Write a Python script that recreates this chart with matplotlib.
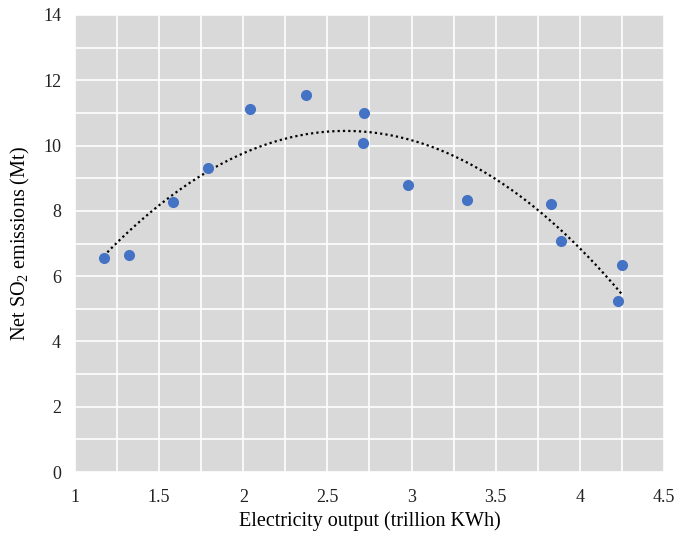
import numpy as np
import matplotlib.pyplot as plt
from matplotlib.ticker import MultipleLocator

plt.rcParams['font.family'] = ['Liberation Serif', 'DejaVu Serif']
plt.rcParams['mathtext.fontset'] = 'custom'
plt.rcParams['mathtext.rm'] = 'Liberation Serif'
plt.rcParams['mathtext.it'] = 'Liberation Serif:italic'

# 发电量 (trillion KWh) 与 SO2 净排放 (Mt)
output_twh = [1.17, 1.32, 1.58, 1.79, 2.04, 2.37, 2.71, 2.72, 2.98, 3.33, 3.83, 3.89, 4.23, 4.25]
so2_mt = [6.55, 6.66, 8.26, 9.30, 11.12, 11.56, 10.07, 11.00, 8.78, 8.34, 8.20, 7.07, 5.25, 6.34]

x = np.array(output_twh)
y = np.array(so2_mt)

fig = plt.figure(figsize=(6.88, 5.34), dpi=100)
ax = fig.add_axes([0.109, 0.116, 0.856, 0.856])
ax.set_facecolor('#D9D9D9')

# 二次趋势线
coef = np.polyfit(x, y, 2)
xs = np.linspace(x.min(), x.max(), 200)
ax.plot(xs, np.polyval(coef, xs), color='black', linestyle=(0, (1, 1.4)), linewidth=1.6, zorder=3)

ax.scatter(x, y, s=64, color='#4472C4', zorder=4, linewidths=0)

ax.set_xlim(1, 4.5)
ax.set_ylim(0, 14)
ax.xaxis.set_major_locator(MultipleLocator(0.5))
ax.xaxis.set_minor_locator(MultipleLocator(0.25))
ax.yaxis.set_major_locator(MultipleLocator(2))
ax.yaxis.set_minor_locator(MultipleLocator(1))
ax.xaxis.set_major_formatter(plt.FuncFormatter(lambda v, p: f'{v:g}'))

ax.grid(which='both', color='white', linewidth=1.2)
ax.set_axisbelow(True)
for s in ax.spines.values():
    s.set_visible(False)
ax.tick_params(which='both', length=0, labelsize=13, colors='#222222')
ax.tick_params(axis='x', pad=12)
ax.tick_params(axis='y', pad=10)

ax.set_xlabel('Electricity output (trillion KWh)', fontsize=14.5, labelpad=4)
ax.set_ylabel(r'Net SO$_2$ emissions (Mt)', fontsize=14.5, labelpad=8)

fig.savefig('out.png', dpi=100)
